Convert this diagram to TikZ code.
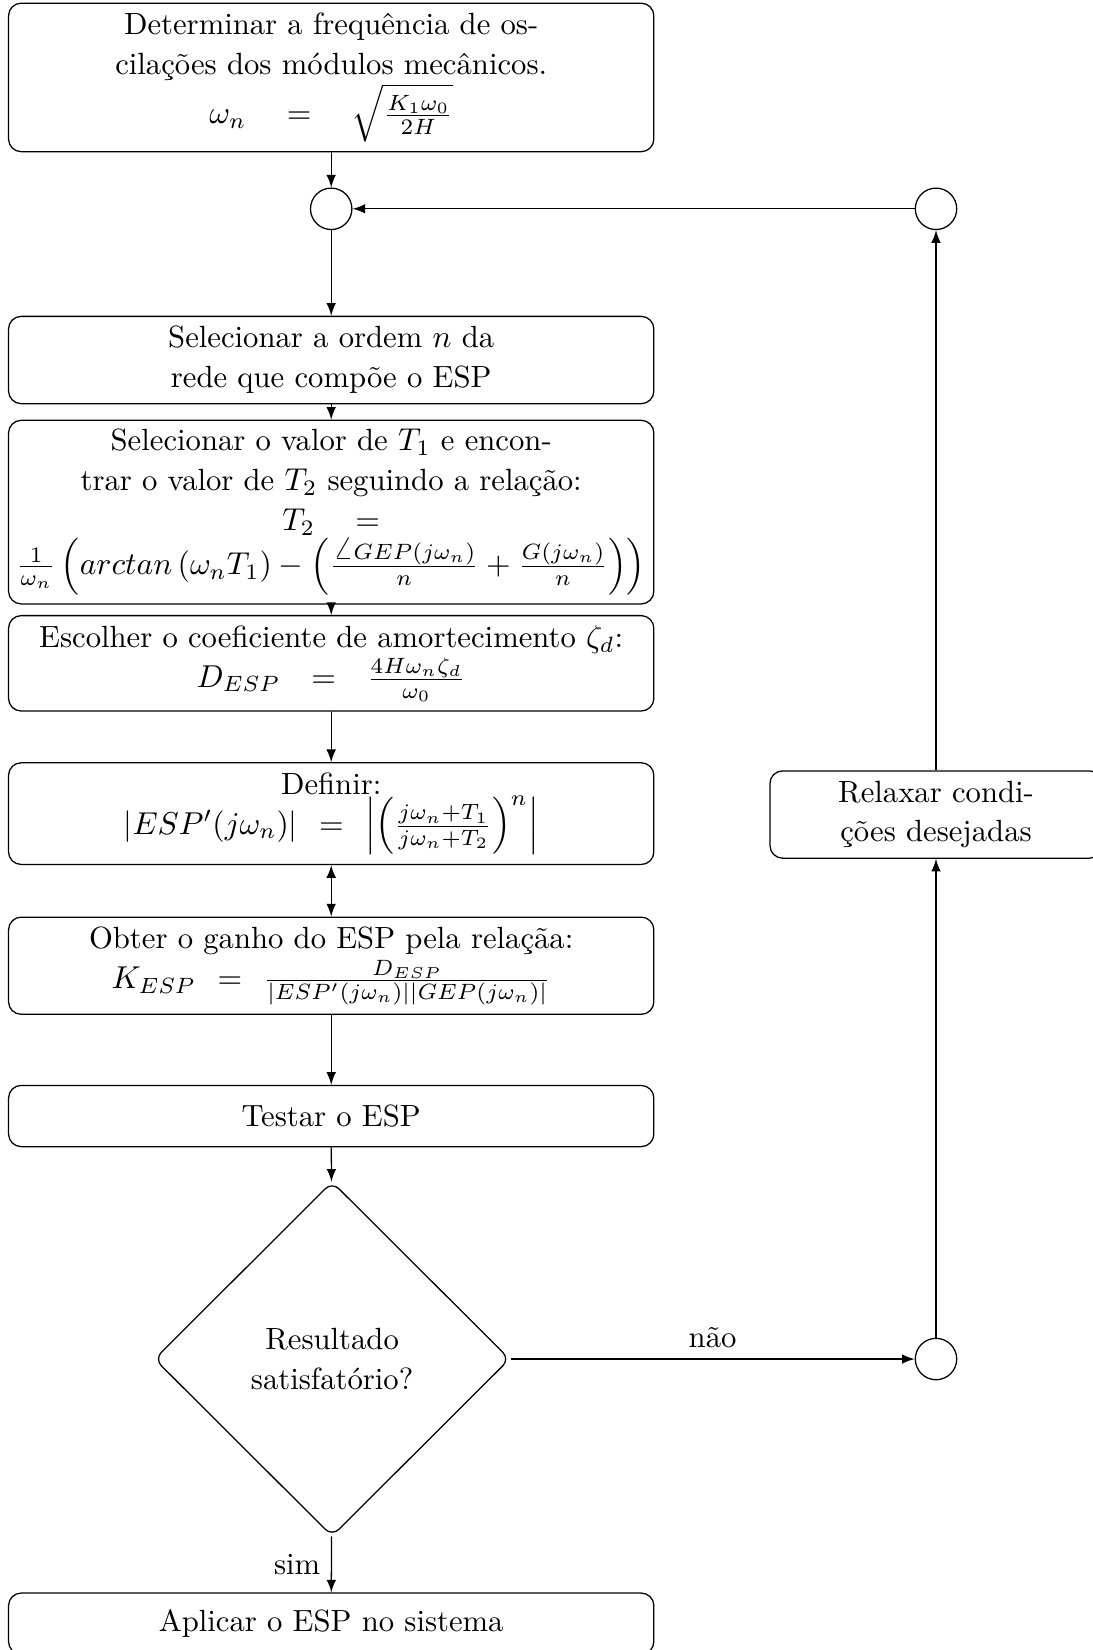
\documentclass[tikz,border=0pt]{standalone}
\usepackage[no-math]{fontspec}
\usepackage{amsmath}
\usetikzlibrary{shapes.geometric,arrows}

\tikzset{
  etapa/.style={draw, rounded corners, minimum width=7.17cm, align=center, inner sep=2pt},
  relaxa/.style={draw, rounded corners, minimum width=3.69cm, align=center, inner sep=2pt},
  juncao/.style={draw, circle, minimum size=0.46cm, inner sep=0pt},
  decisao/.style={draw, diamond, aspect=1, minimum width=3.95cm, minimum height=3.94cm, rounded corners=3pt, align=center, inner sep=0pt}
}

\begin{document}
\begin{tikzpicture}[>=latex, font=\fontsize{9.7}{12.6}\selectfont]
  \useasboundingbox (0,0) rectangle (12.144,-18.333);
  % coluna principal
  \node[etapa, minimum height=1.65cm] (freq) at (3.68,-0.86)
    {Determinar a frequência de os-\\cilações dos módulos mecânicos.\\
     $\omega_n\hspace{10pt}=\hspace{10pt}\sqrt{\frac{K_1\omega_0}{2H}}$};
  \node[juncao] (j1) at (3.68,-2.32) {};
  \node[etapa, minimum height=0.97cm] (ordem) at (3.68,-4.0)
    {Selecionar a ordem $n$ da\\rede que compõe o ESP};
  \node[etapa, minimum height=2.04cm] (tempo) at (3.68,-5.69)
    {Selecionar o valor de $T_1$ e encon-\\trar o valor de $T_2$ seguindo a relação:\\
     $T_2\hspace{10pt}=$\\
     $\frac{1}{\omega_n}\left(arctan\left(\omega_nT_1\right)-\left(\frac{\angle GEP(j\omega_n)}{n}+\frac{G(j\omega_n)}{n}\right)\right)$};
  \node[etapa, minimum height=1.06cm] (amort) at (3.68,-7.37)
    {Escolher o coeficiente de amortecimento $\zeta_d$:\\
     $D_{ESP}\hspace{7pt}=\hspace{7pt}\frac{4H\omega_n\zeta_d}{\omega_0}$};
  \node[etapa, minimum height=1.13cm] (defin) at (3.68,-9.04)
    {Definir:\\
     $|ESP'(j\omega_n)|\hspace{4pt}=\hspace{4pt}\left|\left(\frac{j\omega_n+T_1}{j\omega_n+T_2}\right)^n\right|$};
  \node[etapa, minimum height=1.08cm] (ganho) at (3.68,-10.73)
    {Obter o ganho do ESP pela relaçãa:\\
     $K_{ESP}\hspace{4pt}=\hspace{4pt}\frac{D_{ESP}}{|ESP'(j\omega_n)||GEP(j\omega_n)|}$};
  \node[etapa, minimum height=0.68cm] (teste) at (3.68,-12.4) {Testar o ESP};
  \node[decisao] (result) at (3.69,-15.1) {Resultado\\satisfatório?};
  \node[etapa, minimum height=0.68cm] (aplica) at (3.68,-18.04) {Aplicar o ESP no sistema};
  % laco de retorno
  \node[juncao] (j3) at (10.4,-15.1) {};
  \node[relaxa, minimum height=0.97cm] (relax) at (10.4,-9.05) {Relaxar condi-\\ções desejadas};
  \node[juncao] (j2) at (10.4,-2.32) {};

  \draw[->] (freq) -- (j1);
  \draw[->] (j1) -- (ordem);
  \draw[->] (ordem) -- (tempo);
  \draw[->] (tempo) -- (amort);
  \draw[->] (amort) -- (defin);
  \draw[<->] (defin) -- (ganho);
  \draw[->] (ganho) -- (teste);
  \draw[->] (teste) -- (result);
  \draw[->] (result) -- node[left] {sim} (aplica);
  \draw[->] (result) -- node[above] {não} (j3);
  \draw[->] (j3) -- (relax);
  \draw[->] (relax) -- (j2);
  \draw[->] (j2) -- (j1);
\end{tikzpicture}
\end{document}
